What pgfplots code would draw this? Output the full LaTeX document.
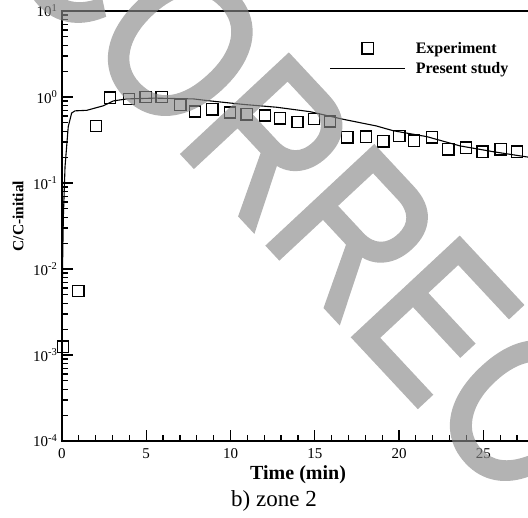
\documentclass[border=0pt]{standalone}
\usepackage{fontspec}
\setmainfont{Liberation Serif}
\newfontfamily\wmfont[FakeBold=2.5]{Liberation Sans}
\usepackage{graphicx}
\usepackage{pgfplots}
\usepackage{pgfplotstable}
\pgfplotsset{compat=1.18}
\pgfplotsset{
  legsq/.style={legend image code/.code={\draw[mark repeat=2,mark phase=2,##1] plot coordinates {(0pt,0pt)(37.5pt,0pt)(75pt,0pt)};}},
  legln/.style={legend image code/.code={\draw[##1] (0pt,0pt) -- (75pt,0pt);}},
}

\pgfplotstableread{
t c
0.05 0.00125
0.97 0.00555
2.02 0.46
2.85 0.98
3.97 0.95
4.97 1.0
5.92 1.0
7.02 0.81
7.9 0.68
8.92 0.72
9.97 0.66
10.96 0.63
12.05 0.61
12.94 0.565
13.98 0.51
14.96 0.555
15.9 0.52
16.93 0.34
18.04 0.346
19.07 0.305
20.02 0.352
20.9 0.31
21.96 0.34
22.93 0.246
23.98 0.257
24.95 0.231
26.03 0.246
27.0 0.231
}\exptable

\pgfplotstableread{
t c
0.0 0.0015
0.03 0.01
0.08 0.04
0.18 0.155
0.37 0.45
0.57 0.65
0.77 0.69
1.47 0.70
2.45 0.79
3.05 0.90
3.84 0.95
5.5 0.97
7.8 0.95
8.8 0.90
10.76 0.82
12.74 0.76
14.72 0.675
16.7 0.55
18.67 0.46
19.66 0.405
21.65 0.346
23.62 0.27
25.6 0.231
27.66 0.2
29.0 0.185
}\modeltable

\begin{document}
\begin{tikzpicture}
\path[use as bounding box] (0pt,0pt) rectangle (528pt,518pt);
\clip (0pt,0pt) rectangle (528pt,518pt);
\begin{axis}[
  at={(62pt,77pt)}, anchor=south west,
  scale only axis, width=505.5pt, height=430pt,
  xmin=0, xmax=30, ymin=1e-4, ymax=10, ymode=log,
  tick pos=left, tick align=inside,
  xtick={0,5,10,15,20,25,30},
  xticklabels={0,5,10,15,20,25,30},
  minor x tick num=4,
  ytick={1e-4,1e-3,1e-2,1e-1,1,10},
  yticklabels={10\textsuperscript{-4},10\textsuperscript{-3},10\textsuperscript{-2},10\textsuperscript{-1},10\textsuperscript{0},10\textsuperscript{1}},
  minor ytick={2e-4,3e-4,4e-4,5e-4,6e-4,7e-4,8e-4,9e-4,
               2e-3,3e-3,4e-3,5e-3,6e-3,7e-3,8e-3,9e-3,
               2e-2,3e-2,4e-2,5e-2,6e-2,7e-2,8e-2,9e-2,
               0.2,0.3,0.4,0.5,0.6,0.7,0.8,0.9,
               2,3,4,5,6,7,8,9},
  major tick length=11pt, minor tick length=6pt,
  every tick/.style={black, line width=1.2pt},
  axis line style={line width=1.5pt},
  ticklabel style={font=\fontsize{15}{18}\selectfont},
  xticklabel style={yshift=-4pt},
  yticklabel style={xshift=-1pt},
  xlabel={\textbf{Time (min)}},
  xlabel style={font=\fontsize{20}{22}\selectfont, at={(rel axis cs:0.467,-0.079)}, anchor=center},
  ylabel={\textbf{C/C-initial}},
  ylabel style={font=\fontsize{15.5}{18}\selectfont, at={(rel axis cs:-0.087,0.523)}, anchor=center, rotate=0},
  legend style={draw=none, fill=none, at={(axis cs:21.25,2.80)}, anchor=center,
     font=\bfseries\fontsize{16}{18}\selectfont, row sep=4pt, column sep=8pt,
     nodes={inner sep=2pt}},
  legend cell align=left,
  clip=false,
]
\addplot[only marks, mark=square, mark size=5.6pt, mark options={line width=1.4pt, black}, legsq]
  table[x=t,y=c] {\exptable};
\addlegendentry{Experiment}
\addplot[black, line width=1.1pt, no marks, legln]
  table[x=t,y=c] {\modeltable};
\addlegendentry{Present study}
\end{axis}
\node at (274pt,17pt) {\fontsize{23}{26}\selectfont b) zone 2};
\begin{scope}[transparency group, opacity=0.65]
\node[anchor=base west, inner sep=0pt, rotate=-47, text=black!46]
  at (-4pt,565pt) {\wmfont\fontsize{209}{209}\selectfont\scalebox{0.83}[1]{CORRECTED}};
\end{scope}
\end{tikzpicture}
\end{document}
